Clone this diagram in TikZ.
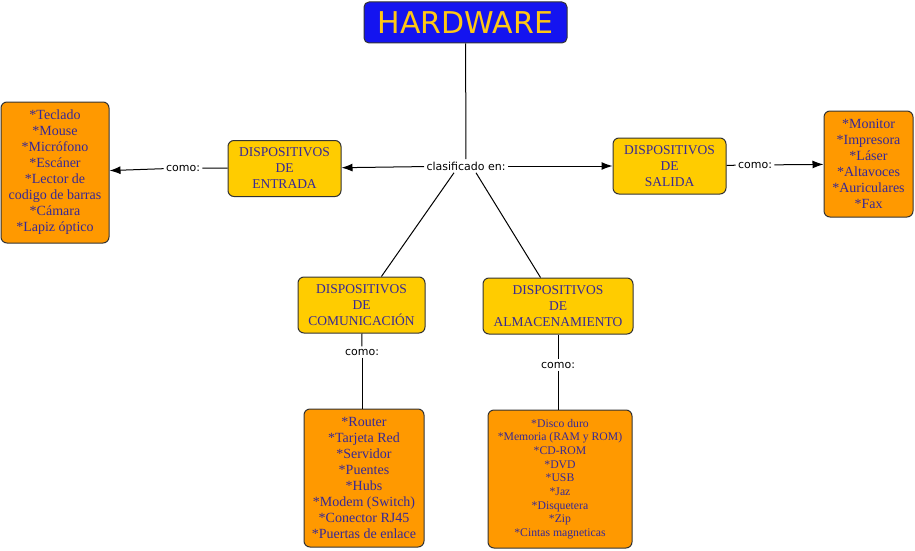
\documentclass[tikz,border=0pt]{standalone}
\usepackage{fontspec}
\setmainfont{Liberation Serif}
\newfontfamily\labelfont{DejaVu Sans}
\usetikzlibrary{arrows.meta}
\definecolor{hwblue}{RGB}{20,20,240}
\definecolor{hwyellow}{RGB}{255,200,20}
\definecolor{catgold}{RGB}{255,204,0}
\definecolor{listorange}{RGB}{255,153,0}
\definecolor{boxtext}{RGB}{55,40,150}
\begin{document}
\begin{tikzpicture}[
        x=1pt, y=-1pt,
        line width=1pt,
        every node/.style={inner sep=0pt, align=center},
        titlebox/.style={draw=black!80, fill=hwblue, rounded corners=5pt, minimum width=203pt, minimum height=41pt, text=hwyellow, font=\labelfont\fontsize{30}{34}\selectfont},
        catbox/.style={draw=black!80, fill=catgold, rounded corners=6pt, minimum height=56pt, text=boxtext, font=\fontsize{13.5}{16}\selectfont},
        listbox/.style={draw=black!80, fill=listorange, rounded corners=6pt, text=boxtext, font=\fontsize{14}{16}\selectfont},
        linklabel/.style={fill=white, inner sep=2pt, font=\labelfont\fontsize{11}{13}\selectfont},
        arr/.style={draw, -{Latex[length=11pt,width=8pt]}},
    ]
    \useasboundingbox (0,0) rectangle (915,551);
    \node[titlebox](hw) at (465.5,22.5){HARDWARE};
    \node[linklabel](clas) at (466,166){clasificado en:};
    \node[catbox, minimum width=113pt](ent) at (284.5,168.5){DISPOSITIVOS\\DE\\ENTRADA};
    \node[catbox, minimum width=113pt](sal) at (669.5,166){DISPOSITIVOS\\DE\\SALIDA};
    \node[catbox, minimum width=127pt](com) at (361.5,305){DISPOSITIVOS\\DE\\COMUNICACIÓN};
    \node[catbox, minimum width=150pt](alm) at (558,306){DISPOSITIVOS\\DE\\ALMACENAMIENTO};
    \node[listbox, minimum width=108pt, minimum height=141pt](lin) at (55,172.5){*Teclado\\*Mouse\\*Micrófono\\*Escáner\\*Lector de\\codigo de barras\\*Cámara\\*Lapiz óptico};
    \node[listbox, minimum width=89pt, minimum height=106pt](lout) at (868.5,164){*Monitor\\*Impresora\\*Láser\\*Altavoces\\*Auriculares\\*Fax};
    \node[listbox, minimum width=120pt, minimum height=138pt](lcom) at (364,478){*Router\\*Tarjeta Red\\*Servidor\\*Puentes\\*Hubs\\*Modem (Switch)\\*Conector RJ45\\*Puertas de enlace};
    \node[listbox, minimum width=144pt, minimum height=138pt, font=\fontsize{11.7}{13.7}\selectfont](lalm) at (560,479){*Disco duro\\*Memoria (RAM y ROM)\\*CD-ROM\\*DVD\\*USB\\*Jaz\\*Disquetera\\*Zip\\*Cintas magneticas};
    \node[linklabel](como1) at (183,168){como:};
    \node[linklabel](como2) at (755,165){como:};
    \node[linklabel](como3) at (362,352){como:};
    \node[linklabel](como4) at (558,365){como:};
    % links
    \draw (hw) -- (clas);
    \draw[arr] (clas) -- (ent);
    \draw[arr] (clas) -- (sal);
    \draw ([xshift=-12pt]clas.south) -- (com);
    \draw ([xshift=10pt]clas.south) -- (alm);
    \draw (ent) -- (como1);
    \draw[arr] (como1) -- (lin);
    \draw (sal) -- (como2);
    \draw[arr] (como2) -- (lout);
    \draw (com) -- (como3);
    \draw (como3) -- (como3 |- lcom.north);
    \draw (alm) -- (como4);
    \draw (como4) -- (como4 |- lalm.north);
\end{tikzpicture}
\end{document}
